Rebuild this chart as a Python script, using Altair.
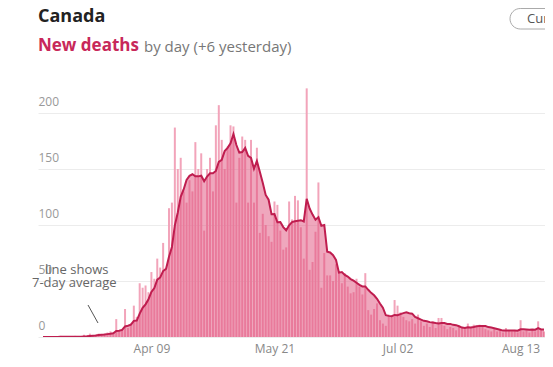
import altair as alt
import pandas as pd

# Daily new deaths in Canada, one value per day from 2020-03-03
deaths = [
    0, 0, 0, 0, 0, 0, 1, 0, 0, 0, 0, 1, 0, 0,
    2, 1, 3, 1, 2, 3, 2,
    3, 4, 5, 4, 16, 5, 7,
    25, 8, 12, 28, 18, 48, 44,
    46, 40, 58, 52, 70, 62, 84,
    60, 115, 120, 187, 150, 160, 130,
    120, 140, 130, 174, 150, 164, 95,
    150, 160, 130, 189, 207, 176, 150,
    170, 189, 188, 120, 160, 179, 176,
    120, 176, 120, 169, 93, 110, 100,
    90, 85, 121, 118, 95, 78, 80,
    121, 105, 126, 122, 98, 70, 222,
    60, 67, 94, 138, 44, 75, 55,
    55, 50, 65, 58, 48, 57, 45,
    39, 40, 52, 45, 38, 57, 24,
    20, 25, 30, 15, 12, 10, 20,
    18, 33, 28, 22, 18, 15, 14,
    16, 12, 20, 14, 10, 12, 9,
    14, 8, 17, 17, 10, 7, 9,
    8, 6, 10, 9, 7, 12, 8,
    11, 10, 11, 9, 7, 6, 5,
    7, 5, 6, 4, 8, 6, 5,
    6, 4, 15, 5, 6, 4, 7,
    5, 14, 6, 5,
]
start_date = "2020-03-03"
dates = pd.date_range(start_date, periods=len(deaths), freq="D").strftime("%Y/%m/%d").tolist()

y_ticks = [0, 50, 100, 150, 200]
x_ticks = [(4, 9), (5, 21), (7, 2), (8, 13)]

df = pd.DataFrame({"date": dates, "deaths": deaths})

FONT = "Open Sans"
PINK_BAR = "#f2a4ba"
PINK_AREA = "#e0507c"
LINE = "#bf1d4f"

x_enc = alt.X(
    "date:T",
    scale=alt.Scale(
        domain=[alt.DateTime(year=2020, month=3, date=3),
                alt.DateTime(year=2020, month=8, date=19, hours=15)]
    ),
    axis=alt.Axis(
        values=[alt.DateTime(year=2020, month=m, date=d) for m, d in x_ticks],
        format="%b %d", title=None, grid=False, domain=False, ticks=False,
        tickSize=0, labelPadding=6, labelFontSize=12, labelColor="#888",
        labelFont=FONT,
    ),
)
y_scale = alt.Scale(domain=[0, 225], nice=False)

base = alt.Chart(df)

bars = base.mark_bar(width=2, color=PINK_BAR, clip=True).encode(
    x=x_enc,
    y=alt.Y(
        "deaths:Q", scale=y_scale,
        axis=alt.Axis(
            values=y_ticks, title=None, domain=False, ticks=False, tickSize=0,
            labelAlign="left", labelBaseline="bottom", labelPadding=0,
            labelOffset=-5, labelFontSize=12, labelColor="#999", labelFont=FONT,
            gridColor="#ececec", gridWidth=1,
        ),
    ),
)

avg_base = base.transform_window(
    avg="mean(deaths)", frame=[-6, 0], sort=[alt.SortField("date")]
)
area = avg_base.mark_area(color=PINK_AREA, opacity=0.5, clip=True).encode(
    x="date:T", y=alt.Y("avg:Q", scale=y_scale)
)
line = avg_base.mark_line(color=LINE, strokeWidth=2, clip=True).encode(
    x="date:T", y=alt.Y("avg:Q", scale=y_scale)
)

title = alt.Chart(pd.DataFrame({"t": ["Canada"]})).mark_text(
    align="left", baseline="middle", font=FONT, fontSize=18, fontWeight="bold",
    color="#222",
).encode(text="t:N", x=alt.value(0), y=alt.value(-68))

sub1 = alt.Chart(pd.DataFrame({"t": ["New deaths"]})).mark_text(
    align="left", baseline="middle", font=FONT, fontSize=17, fontWeight="bold",
    color="#c8285a",
).encode(text="t:N", x=alt.value(0), y=alt.value(-39))

sub2 = alt.Chart(pd.DataFrame({"t": ["by day (+6 yesterday)"]})).mark_text(
    align="left", baseline="middle", font=FONT, fontSize=15, color="#777",
).encode(text="t:N", x=alt.value(106), y=alt.value(-38))

note1 = alt.Chart(pd.DataFrame({"t": ["line shows"]})).mark_text(
    align="left", baseline="middle", font=FONT, fontSize=13, color="#666",
).encode(text="t:N", x=alt.value(7), y=alt.value(185))
note2 = alt.Chart(pd.DataFrame({"t": ["7-day average"]})).mark_text(
    align="left", baseline="middle", font=FONT, fontSize=13, color="#666",
).encode(text="t:N", x=alt.value(-6), y=alt.value(198))

pointer = alt.Chart(pd.DataFrame({"a": [0]})).mark_rule(color="#555", strokeWidth=1).encode(
    x=alt.value(50), x2=alt.value(60), y=alt.value(220), y2=alt.value(238)
)

button = alt.Chart(pd.DataFrame({"a": [0]})).mark_rect(
    fill="white", stroke="#aaa", strokeWidth=1, cornerRadius=11,
).encode(x=alt.value(472), x2=alt.value(540), y=alt.value(-76.5), y2=alt.value(-56))
button_text = alt.Chart(pd.DataFrame({"t": ["Cum"]})).mark_text(
    align="left", baseline="middle", font=FONT, fontSize=13, color="#555",
).encode(text="t:N", x=alt.value(489), y=alt.value(-66))

chart = alt.layer(
    bars, area, line, title, sub1, sub2, note1, note2, pointer, button, button_text
).properties(
    width=507, height=252,
    padding={"left": 30, "top": 77, "right": 0, "bottom": 20},
    autosize=alt.AutoSizeParams(type="none"),
).configure_view(stroke=None)

chart.save("out.html", embed_options={"renderer": "svg", "actions": False})
